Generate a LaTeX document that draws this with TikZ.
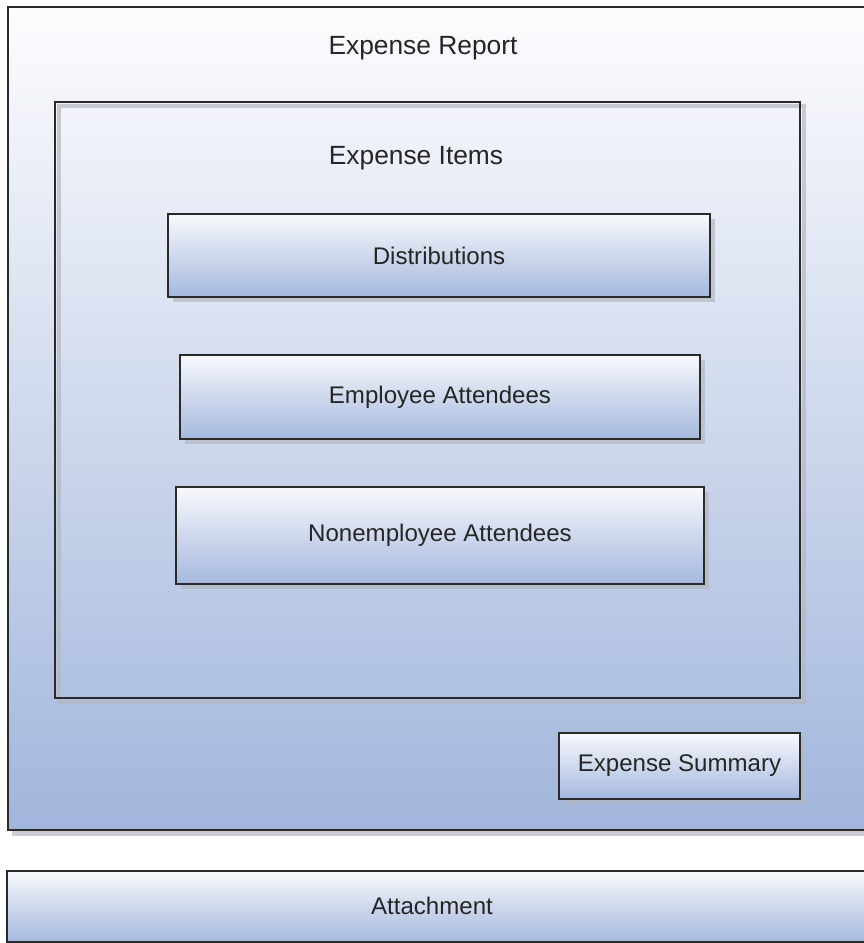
\documentclass[tikz,border=0pt]{standalone}
\usepackage{fontspec}
\setmainfont{Liberation Sans}
\usetikzlibrary{calc}
\definecolor{boxtop}{HTML}{F8F9FC}
\definecolor{boxbot}{HTML}{A5B8DE}
\definecolor{pagetop}{HTML}{FDFDFE}
\definecolor{pagebot}{HTML}{A1B5DC}
\definecolor{rim}{HTML}{2A2A2A}
\definecolor{shadowgray}{HTML}{B4B8C0}
\tikzset{
  rimline/.style={draw=rim, line width=1.5pt},
  boxfill/.style={top color=boxtop, bottom color=boxbot},
  shadowbox/.style={fill=shadowgray, opacity=0.7},
  label/.style={text=black!85, inner sep=0pt},
  title/.style={label, font=\fontsize{15}{18}\selectfont}
}
\begin{document}
\begin{tikzpicture}[x=0.02cm, y=-0.02cm, line join=miter, font=\fontsize{13.7}{16}\selectfont]
\useasboundingbox (0,0) rectangle (864,943);
% Expense Report
\coordinate (RA) at (8,7);
\coordinate (RB) at (872,830);
\fill[shadowbox] ($(RA)+(4,4)$) rectangle ($(RB)+(4,6)$);
\shade[top color=pagetop, bottom color=pagebot] (RA) rectangle (RB);
\draw[rimline] (RA) rectangle (RB);
\node[title] (report) at (423,48) {Expense Report};
% Expense Items
\coordinate (IA) at (55,102);
\coordinate (IB) at (800,698);
\draw[shadowgray, opacity=0.7, line width=2pt] ($(IA)+(4,4)$) rectangle ($(IB)+(4,4)$);
\draw[rimline] (IA) rectangle (IB);
\node[title] (items) at (416,158) {Expense Items};
% Distributions
\coordinate (DA) at (168,214);
\coordinate (DB) at (710,297);
\fill[shadowbox] ($(DA)+(5,5)$) rectangle ($(DB)+(5,5)$);
\shade[boxfill] (DA) rectangle (DB);
\draw[rimline] (DA) rectangle (DB);
\node[label] (dist) at ($(DA)!0.5!(DB)$) {Distributions};
% Employee Attendees
\coordinate (EA) at (180,355);
\coordinate (EB) at (700,439);
\fill[shadowbox] ($(EA)+(5,5)$) rectangle ($(EB)+(5,5)$);
\shade[boxfill] (EA) rectangle (EB);
\draw[rimline] (EA) rectangle (EB);
\node[label] (emp) at ($(EA)!0.5!(EB)$) {Employee Attendees};
% Nonemployee Attendees
\coordinate (NA) at (176,487);
\coordinate (NB) at (704,584);
\fill[shadowbox] ($(NA)+(5,5)$) rectangle ($(NB)+(5,5)$);
\shade[boxfill] (NA) rectangle (NB);
\draw[rimline] (NA) rectangle (NB);
\node[label] (nonemp) at ($(NA)!0.5!(NB)$) {Nonemployee Attendees};
% Expense Summary
\coordinate (SA) at (559,733);
\coordinate (SB) at (800,799);
\fill[shadowbox] ($(SA)+(5,5)$) rectangle ($(SB)+(5,5)$);
\shade[boxfill] (SA) rectangle (SB);
\draw[rimline] (SA) rectangle (SB);
\node[label] (summary) at ($(SA)!0.5!(SB)$) {Expense Summary};
% Attachment
\coordinate (AA) at (7,871);
\coordinate (AB) at (872,942);
\shade[boxfill] (AA) rectangle (AB);
\draw[rimline] (AA) rectangle (AB);
\node[label] (attach) at (432,906) {Attachment};
\end{tikzpicture}
\end{document}
